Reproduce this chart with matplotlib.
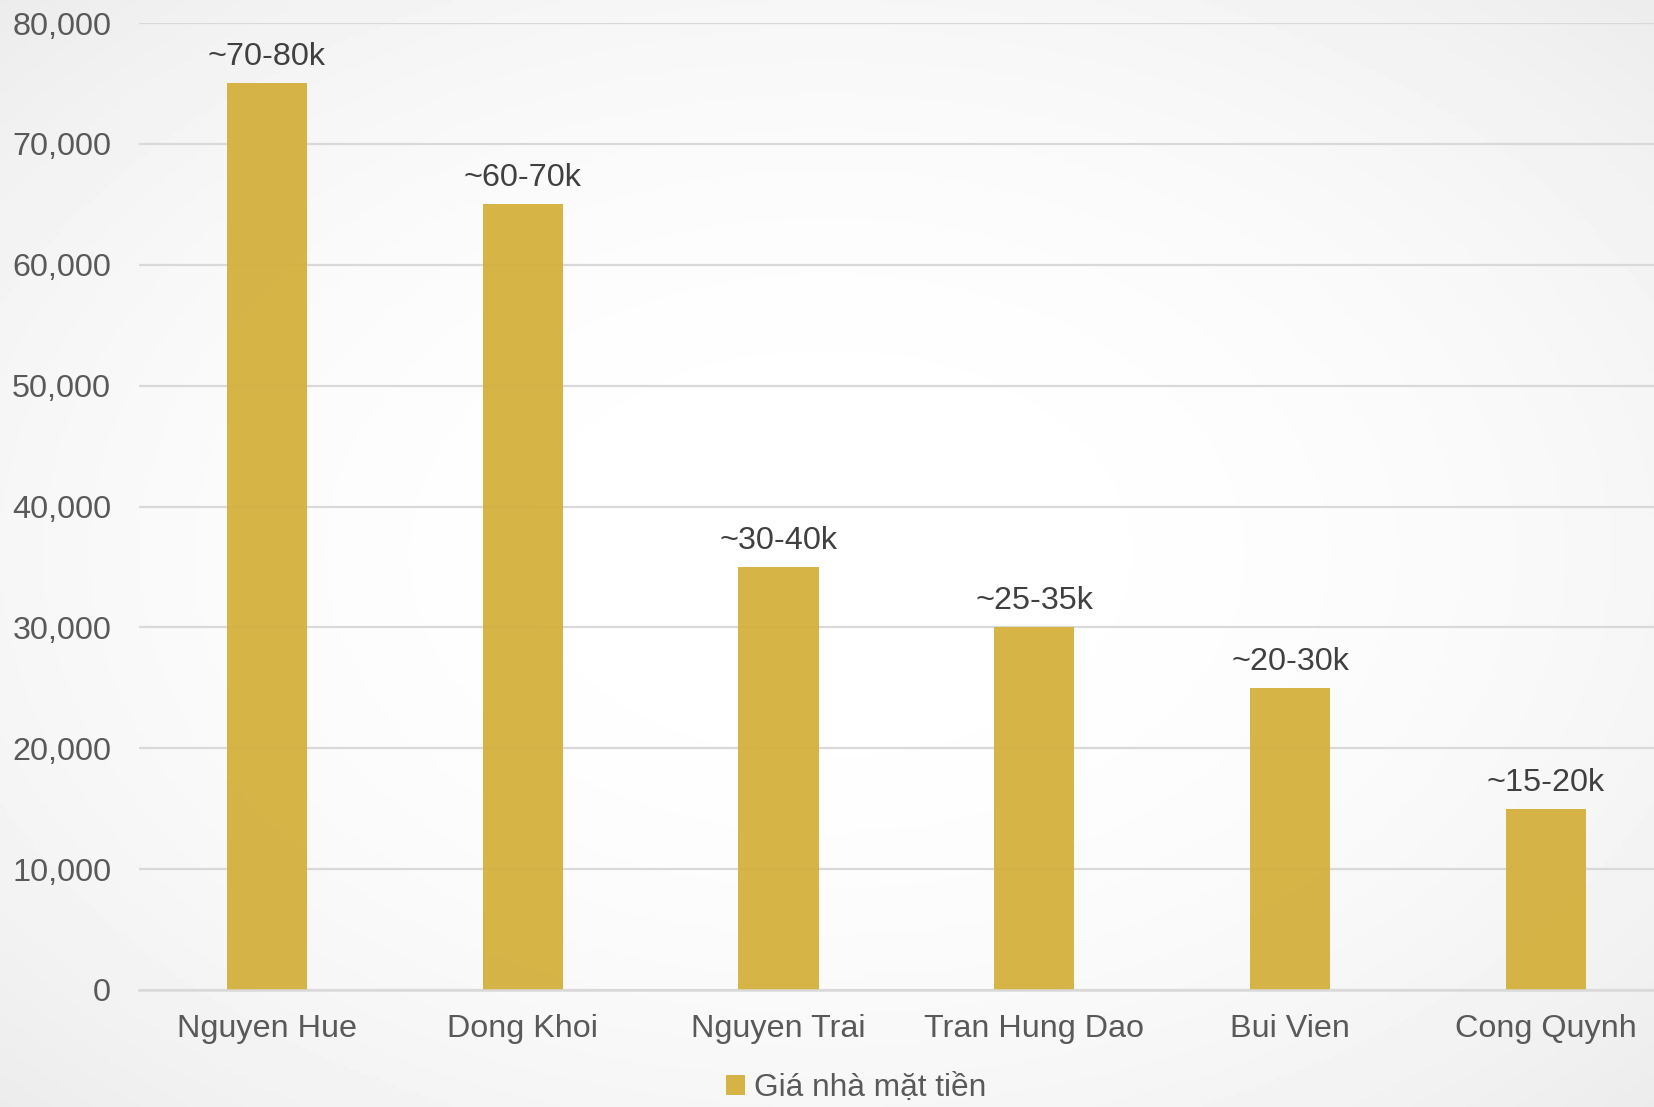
import numpy as np
import matplotlib
matplotlib.use('Agg')
import matplotlib.pyplot as plt

# data
streets = ['Nguyen Hue', 'Dong Khoi', 'Nguyen Trai', 'Tran Hung Dao', 'Bui Vien', 'Cong Quynh']
prices = [75000, 65000, 35000, 30000, 25000, 15000]
ranges = ['~70-80k', '~60-70k', '~30-40k', '~25-35k', '~20-30k', '~15-20k']
series_name = 'Giá nhà mặt tiền'

plt.rcParams['font.family'] = ['Liberation Sans', 'DejaVu Sans']

fig = plt.figure(figsize=(16.54, 11.07), dpi=100)

# soft radial background
bg = fig.add_axes([0, 0, 1, 1], zorder=-1)
yy, xx = np.mgrid[-1:1:300j, -1:1:450j]
r = np.sqrt(xx**2 + yy**2) / np.sqrt(2)
bg.imshow(1 - 0.075 * r**2.2, cmap='gray', vmin=0, vmax=1, aspect='auto', extent=[0, 1, 0, 1])
bg.axis('off')

ax = fig.add_axes([0.084, 0.1057, 0.928, 0.8735])
ax.patch.set_alpha(0)

x = np.arange(len(streets))
bars = ax.bar(x, prices, width=0.313, color='#d4b03c', alpha=0.95, zorder=2)

for b, lab in zip(bars, ranges):
    ax.annotate(lab, (b.get_x() + b.get_width() / 2, b.get_height()),
                xytext=(0, 8), textcoords='offset points',
                ha='center', va='bottom', fontsize=23.3, color='#404040')

ax.set_xlim(-0.5, len(streets) - 0.5)
ax.set_ylim(0, 80000)
ax.set_yticks(range(0, 80001, 10000))
ax.yaxis.set_major_formatter(matplotlib.ticker.FuncFormatter(lambda v, p: f'{int(v):,}'))
ax.set_xticks(x)
ax.set_xticklabels(streets)
ax.tick_params(axis='both', length=0, labelsize=23.3, labelcolor='#595959')
ax.tick_params(axis='y', pad=20)
ax.tick_params(axis='x', pad=17)

ax.grid(axis='y', color='#d9d9d9', linewidth=1.6, zorder=0)
ax.set_axisbelow(True)
for s in ['top', 'right', 'left']:
    ax.spines[s].set_visible(False)
ax.spines['bottom'].set_color('#d9d9d9')
ax.spines['bottom'].set_linewidth(1.8)

leg = fig.legend([bars[0]], [series_name], loc='center', bbox_to_anchor=(856 / 1654, 1 - 1088 / 1107),
                 frameon=False, fontsize=22.8, handlelength=0.6, handleheight=0.6, handletextpad=0.3,
                 labelcolor='#595959')

fig.savefig('out.png', dpi=100)
